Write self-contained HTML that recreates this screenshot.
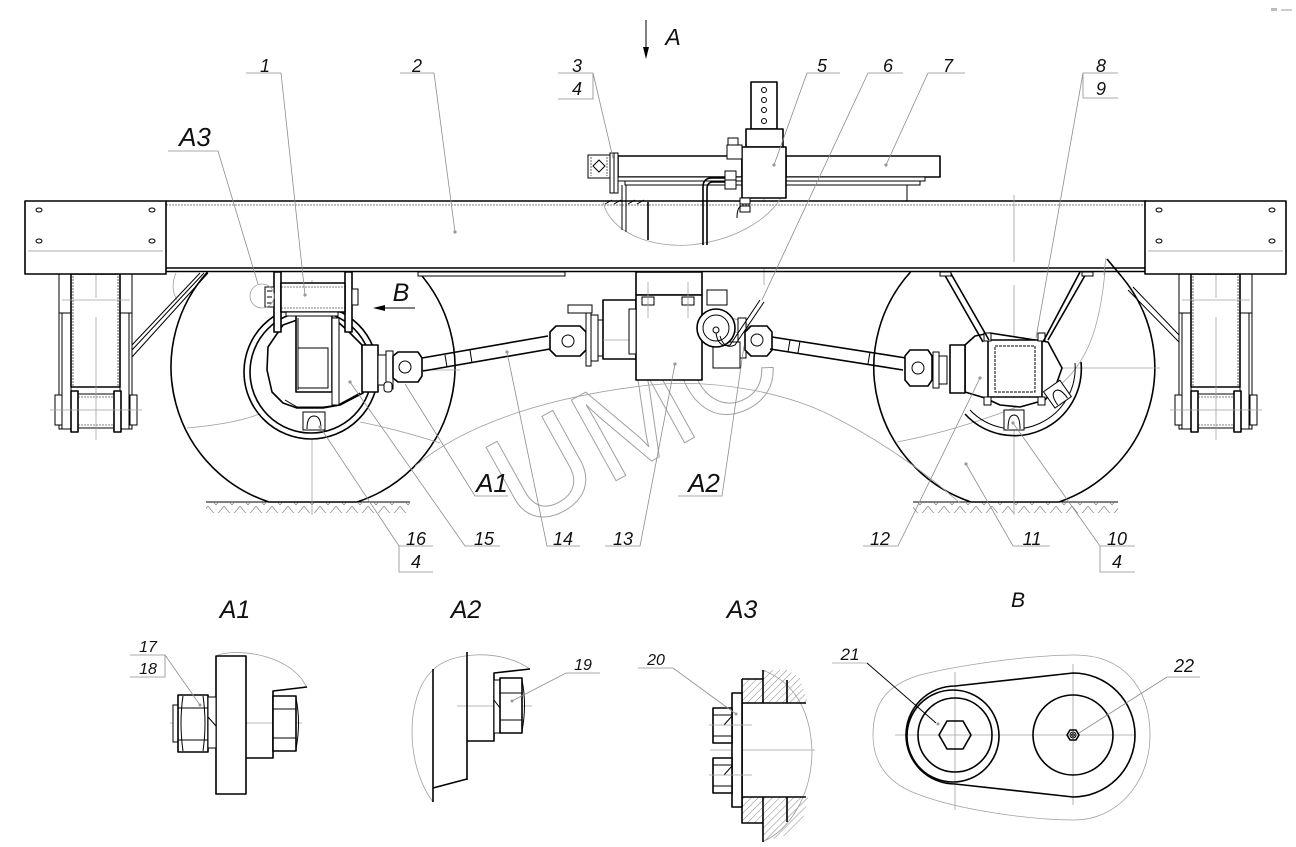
<!DOCTYPE html>
<html><head><meta charset="utf-8">
<style>html,body{margin:0;padding:0;background:#fff}svg{display:block}</style>
</head><body>
<svg width="1296" height="847" viewBox="0 0 1296 847" xmlns="http://www.w3.org/2000/svg">
<style>
.k{stroke:#000;stroke-width:1.6;fill:none;stroke-linejoin:round}
.kw{stroke:#000;stroke-width:1.6;fill:#fff;stroke-linejoin:round}
.t{stroke:#000;stroke-width:1;fill:none}
.tw{stroke:#000;stroke-width:1;fill:#fff}
.g{stroke:#a0a0a0;stroke-width:0.8;fill:none}
.ld{stroke:#8c8c8c;stroke-width:0.8;fill:none}
.dt{stroke:#000;stroke-width:0.6;fill:none;stroke-dasharray:2 1}
.wm{stroke:#a0a0a0;stroke-width:1;fill:none}
text{font-family:"Liberation Sans",sans-serif;font-style:italic;fill:#111;text-anchor:middle}
</style>
<defs>
<pattern id="gh" width="16" height="11" patternUnits="userSpaceOnUse">
<path d="M0 0 L8 10 M16 0 L8 10" stroke="#808080" stroke-width="0.7" fill="none"/>
</pattern>
<pattern id="hat" width="5" height="5" patternUnits="userSpaceOnUse" patternTransform="rotate(45)">
<line x1="0" y1="0" x2="0" y2="5" stroke="#555" stroke-width="0.7"/>
</pattern>
<g id="leg">
<rect x="59" y="274" width="12" height="155" class="t"/>
<line x1="62" y1="313" x2="62" y2="429" class="t"/>
<line x1="59" y1="313" x2="71" y2="313" class="t"/>
<rect x="120" y="274" width="12" height="155" class="t"/>
<line x1="129" y1="313" x2="129" y2="429" class="t"/>
<line x1="120" y1="313" x2="132" y2="313" class="t"/>
<rect x="71" y="274" width="49" height="113" class="k"/>
<line x1="73" y1="276" x2="73" y2="386" class="dt"/>
<line x1="118" y1="276" x2="118" y2="386" class="dt"/>
<rect x="55" y="395" width="7" height="30" class="tw"/>
<rect x="71" y="391" width="7" height="41" class="kw"/>
<rect x="114" y="391" width="7" height="41" class="kw"/>
<rect x="130" y="395" width="7" height="30" class="tw"/>
<rect x="78" y="394" width="36" height="34" class="t"/>
<line x1="78" y1="397" x2="114" y2="397" class="dt"/>
<line x1="78" y1="425" x2="114" y2="425" class="dt"/>
<line x1="50" y1="410" x2="142" y2="410" class="g"/>
<line x1="62" y1="300" x2="130" y2="300" class="g"/>
<line x1="96" y1="254" x2="96" y2="298" class="g"/>
<line x1="96" y1="317" x2="96" y2="440" class="g"/>
<rect x="25" y="201" width="141" height="73" class="kw"/>
<ellipse cx="39" cy="210" rx="3" ry="2" class="tw" stroke-width="1.4"/>
<ellipse cx="152" cy="210" rx="3" ry="2" class="tw" stroke-width="1.4"/>
<ellipse cx="39" cy="241" rx="3" ry="2" class="tw" stroke-width="1.4"/>
<ellipse cx="152" cy="241" rx="3" ry="2" class="tw" stroke-width="1.4"/>
<line x1="28" y1="251" x2="163" y2="251" stroke="#c8c8c8" stroke-width="1.5"/>
</g>
</defs>

<rect x="1271" y="8" width="6" height="3" fill="#bbb"/><rect x="1281" y="9" width="11" height="2" fill="#ccc"/>

<text x="632" y="465" font-size="134" class="wm" style="font-style:normal;fill:none;stroke:#a0a0a0" transform="rotate(-29 632 417)">UMC</text>

<path d="M418.5 272 A142 142 0 0 1 357 502 L269 502 A142 142 0 0 1 207.5 272" class="k"/>
<path d="M1122 277 A142 142 0 0 1 1059 502 L971 502 A142 142 0 0 1 910.5 272" class="k"/>
<line x1="206" y1="502" x2="410" y2="502" class="t"/>
<rect x="206" y="503" width="204" height="10" fill="url(#gh)"/>
<line x1="913" y1="502" x2="1118" y2="502" class="t"/>
<rect x="913" y="503" width="205" height="10" fill="url(#gh)"/>

<path d="M187 428 C220 425 250 420 268 410" class="g"/>
<path d="M360 422 C390 428 415 435 440 443" class="g"/>
<path d="M415 466 C470 420 560 395 650 385 C720 378 790 395 830 415 C880 440 925 472 960 503" class="g"/>
<path d="M897 442 C960 430 1030 405 1060 385 C1090 360 1102 320 1106 258" class="g"/>
<path d="M176 273 C172 282 172 292 177 300" class="g"/>
<line x1="312" y1="280" x2="312" y2="515" class="g"/>
<line x1="262" y1="370" x2="460" y2="370" class="g"/>
<line x1="1014" y1="285" x2="1014" y2="515" class="g"/>
<line x1="960" y1="368" x2="1160" y2="368" class="g"/>
<line x1="764" y1="82" x2="764" y2="285" class="g"/>

<circle cx="311" cy="372" r="67" class="kw"/>
<circle cx="311" cy="372" r="61" class="k" stroke-width="1.2"/>
<path d="M297 320 L283 325 L268 347 L267 370 L272 392 L283 403 L297 408 L323 408 L340 405 L363 393 L362 345 L347 330 L338 322 Z" class="kw"/>
<path d="M285 400 L297 407 L323 407 L338 405 L360 393" class="t"/>
<path d="M303 430 L303 412 L325 412 L325 430 Z" class="tw"/>
<path d="M307 429 Q307 416 314 416 Q321 416 321 429" class="t"/>
<rect x="296" y="315" width="36" height="77" class="kw"/>
<rect x="298" y="348" width="30" height="40" class="t"/>
<line x1="298" y1="318" x2="298" y2="390" class="t"/>
<rect x="332" y="318" width="7" height="87" class="tw"/>
<rect x="274" y="272" width="7" height="60" class="kw"/>
<rect x="345" y="272" width="7" height="60" class="kw"/>
<rect x="281" y="283" width="64" height="29" class="kw"/>
<line x1="281" y1="287" x2="345" y2="287" class="dt"/>
<line x1="281" y1="308" x2="345" y2="308" class="dt"/>
<rect x="286" y="312" width="52" height="4" class="tw"/>
<rect x="265" y="287" width="9" height="20" class="tw"/>
<line x1="267" y1="291" x2="272" y2="291" class="t"/><line x1="267" y1="297" x2="272" y2="297" class="t"/><line x1="267" y1="303" x2="272" y2="303" class="t"/>
<rect x="352" y="289" width="6" height="16" class="tw"/>
<circle cx="262" cy="296" r="12" class="g"/>
<rect x="362" y="345" width="16" height="47" class="kw"/>
<rect x="378" y="355" width="8" height="30" class="tw"/>
<rect x="386" y="351" width="7" height="38" class="tw"/>
<path d="M393 356 L398 352 L418 352 L422 358 L422 376 L418 382 L398 382 L393 378 Z" class="kw"/>
<circle cx="405" cy="367" r="6" class="tw" stroke-width="1.3"/>
<rect x="384" y="382" width="8" height="10" rx="3" class="tw"/>
<path d="M422 358 L548 336 M423 371 L550 349" class="k"/>
<path d="M445 355 L447 367 M470 350 L472 363" class="t"/>
<path d="M550 332 L556 326 L580 326 L586 332 L586 350 L580 356 L556 356 L550 350 Z" class="kw"/>
<circle cx="568" cy="341" r="6" class="tw" stroke-width="1.3"/>
<rect x="586" y="310" width="5" height="56" class="tw"/>
<rect x="591" y="315" width="7" height="46" class="tw"/>
<rect x="598" y="320" width="5" height="36" class="tw"/>
<rect x="568" y="305" width="24" height="8" class="tw"/>
<rect x="603" y="300" width="33" height="59" class="kw"/>
<line x1="603" y1="340" x2="690" y2="340" class="g"/>
<rect x="418" y="272" width="147" height="4" class="tw"/>
<rect x="636" y="272" width="66" height="23" class="kw"/>
<rect x="636" y="295" width="66" height="85" class="kw"/>
<rect x="629" y="309" width="7" height="45" class="tw"/>
<rect x="642" y="297" width="12" height="8" class="tw"/><rect x="682" y="297" width="12" height="8" class="tw"/>
<line x1="648" y1="282" x2="648" y2="318" class="g"/><line x1="688" y1="282" x2="688" y2="318" class="g"/>
<rect x="707" y="290" width="20" height="15" class="tw"/>
<rect x="738" y="318" width="8" height="40" class="tw"/>
<rect x="713" y="342" width="27" height="26" class="tw"/>
<circle cx="716" cy="328" r="19" class="kw"/>
<circle cx="716" cy="328" r="13" class="t"/>
<circle cx="716" cy="330" r="3" class="tw"/>
<path d="M716 333 Q718 348 730 345 L760 300 M720 336 Q724 350 735 345 L764 302" class="t"/>
<path d="M745 332 L751 326 L767 326 L772 332 L772 350 L767 356 L751 356 L745 350 Z" class="kw"/>
<circle cx="757" cy="340" r="6" class="tw" stroke-width="1.3"/>
<path d="M772 337 L906 358 M770 349 L903 370" class="k"/>
<path d="M790 340 L788 352 M800 341 L798 353 M870 352 L868 364" class="t"/>
<path d="M1081 362 A67 67 0 0 1 965 414" class="k"/>
<path d="M1075 363 A61 61 0 0 1 970 410" class="t"/>
<path d="M965 345 L975 336 L990 333 L1048 342 L1062 368 L1055 388 L1045 400 L1020 407 L1000 405 L985 398 L965 392 Z" class="kw"/>
<path d="M1004 430 L1004 410 L1024 410 L1024 430 Z" class="tw"/>
<path d="M1008 429 Q1008 415 1014 415 Q1020 415 1020 429" class="t"/>
<g transform="rotate(-35 1058 395)"><rect x="1048" y="384" width="20" height="20" class="tw"/><path d="M1052 403 Q1052 390 1058 390 Q1064 390 1064 403" class="t"/></g>
<rect x="950" y="345" width="15" height="48" class="kw"/>
<rect x="933" y="352" width="6" height="36" class="tw"/>
<rect x="939" y="356" width="8" height="28" class="tw"/>
<path d="M905 356 L910 350 L928 350 L932 356 L932 380 L928 386 L910 386 L905 380 Z" class="kw"/>
<circle cx="918" cy="368" r="6" class="tw" stroke-width="1.3"/>
<rect x="988" y="340" width="54" height="57" class="kw"/>
<rect x="995" y="346" width="40" height="46" class="t" stroke-dasharray="3 1"/>
<rect x="984" y="333" width="7" height="8" class="tw"/><rect x="1038" y="333" width="7" height="8" class="tw"/>
<rect x="984" y="397" width="7" height="8" class="tw"/><rect x="1038" y="397" width="7" height="8" class="tw"/>
<path d="M943 272 L983 342 M950 272 L989 340" class="k"/>
<path d="M1080 272 L1043 342 M1087 272 L1048 340" class="k"/>
<rect x="940" y="272" width="11" height="4" class="tw"/>
<rect x="1082" y="272" width="11" height="4" class="tw"/>

<path d="M200 273 L132 345 M204 273 L132 350 M208 273 L132 357" class="t"/>
<path d="M1128 290 L1179 342 M1133 287 L1179 335" class="t"/>

<rect x="166" y="202" width="980" height="66" fill="#fff"/>
<line x1="166" y1="201" x2="1146" y2="201" class="k"/>
<line x1="166" y1="205" x2="1146" y2="205" class="dt"/>
<line x1="166" y1="268" x2="1146" y2="268" class="k"/>
<line x1="166" y1="271.5" x2="1146" y2="271.5" class="k"/>
<line x1="1014" y1="195" x2="1014" y2="262" class="g"/>
<path d="M603 202 C610 232 650 248 690 245 C740 240 775 215 785 190" class="g"/>
<path d="M1106 258 C1105 266 1104 270 1104 275" class="g"/>
<path d="M1107 259 L1122 277" class="k"/>
<line x1="622" y1="185" x2="622" y2="230" class="t"/>
<line x1="626" y1="185" x2="626" y2="232" class="t"/>
<line x1="648" y1="202" x2="648" y2="240" class="k"/>
<path d="M605 204 L612 200 M614 204 L621 200 M628 204 L635 200 M637 204 L644 200" class="t"/>

<use href="#leg"/>
<use href="#leg" transform="translate(1120,0)"/>

<rect x="751" y="82" width="26" height="47" class="kw"/>
<circle cx="764" cy="90" r="2.5" class="tw" stroke-width="1.2"/>
<circle cx="764" cy="100" r="2.5" class="tw" stroke-width="1.2"/>
<circle cx="764" cy="110" r="2.5" class="tw" stroke-width="1.2"/>
<circle cx="764" cy="121" r="2.5" class="tw" stroke-width="1.2"/>
<rect x="746" y="129" width="37" height="18" class="kw"/>
<rect x="618" y="156" width="124" height="21" class="kw"/>
<rect x="618" y="177" width="124" height="4" class="tw"/>
<rect x="625" y="181" width="117" height="4" class="tw"/>
<rect x="588" y="155" width="22" height="23" class="tw"/>
<path d="M599 160 L605 166 L599 172 L593 166 Z" class="t"/>
<line x1="591" y1="157" x2="591" y2="176" class="dt"/><line x1="607" y1="157" x2="607" y2="176" class="dt"/>
<rect x="610" y="153" width="8" height="40" class="tw"/>
<line x1="614" y1="153" x2="614" y2="193" class="t"/>
<rect x="786" y="156" width="154" height="21" class="kw"/>
<rect x="786" y="177" width="139" height="4" class="tw"/>
<rect x="786" y="181" width="134" height="4" class="tw"/>
<line x1="907" y1="185" x2="907" y2="201" class="t"/>
<rect x="742" y="147" width="44" height="51" class="kw"/>
<rect x="728" y="138" width="10" height="7" class="tw"/>
<rect x="727" y="145" width="15" height="14" class="tw"/>
<path d="M703 245 L703 187 Q703 178 712 178 L725 178 M707 245 L707 189 Q707 182 713 182 L725 182" class="k" stroke-width="1.3"/>
<rect x="725" y="171" width="11" height="18" class="tw"/>
<line x1="725" y1="180" x2="736" y2="180" class="t"/>
<rect x="740" y="198" width="10" height="6" class="tw"/>
<rect x="740" y="206" width="10" height="6" class="tw"/>
<path d="M741 206 Q737 208 737 218" class="t"/>
<line x1="646" y1="20" x2="646" y2="50" class="t"/>
<path d="M643 47 L649 47 L646 59 Z" fill="#000"/>
<line x1="383" y1="308" x2="415" y2="308" class="t"/>
<path d="M373 308 L385 305 L385 311 Z" fill="#000"/>

<g class="ld">
<path d="M246 73 L281 73 L305 295"/>
<path d="M400 73 L434 73 L455 232"/>
<path d="M168 151 L218 151 L258 284"/>
<path d="M558 73 L593 73 L613 158 M558 99 L593 99 L593 73"/>
<path d="M840 73 L807 73 L774 165"/>
<path d="M903 73 L868 73 L762 300"/>
<path d="M965 73 L928 73 L886 165"/>
<path d="M1118 73 L1083 73 L1036 338 M1118 98 L1083 98 L1083 73"/>
<path d="M508 496 L475 496 L405 384"/>
<path d="M678 496 L722 496 L744 346"/>
<path d="M433 546 L399 546 L320 427 M433 572 L399 572 L399 546"/>
<path d="M500 546 L465 546 L350 382"/>
<path d="M580 546 L547 546 L507 352"/>
<path d="M605 546 L640 546 L675 364"/>
<path d="M863 546 L898 546 L980 378"/>
<path d="M1050 546 L1013 546 L966 464"/>
<path d="M1135 546 L1100 546 L1013 423 M1135 572 L1100 572 L1100 546"/>
</g>
<g fill="#999">
<circle cx="305" cy="295" r="1.6"/><circle cx="455" cy="232" r="1.6"/><circle cx="774" cy="165" r="1.6"/>
<circle cx="886" cy="165" r="1.6"/><circle cx="350" cy="382" r="1.6"/><circle cx="507" cy="352" r="1.6"/>
<circle cx="675" cy="364" r="1.6"/><circle cx="980" cy="378" r="1.6"/><circle cx="966" cy="464" r="1.6"/>
<circle cx="320" cy="427" r="1.6"/><circle cx="1013" cy="423" r="1.6"/>
</g>

<text x="265" y="72" font-size="18">1</text>
<text x="417" y="72" font-size="18">2</text>
<text x="577" y="72" font-size="18">3</text>
<text x="577" y="95" font-size="18">4</text>
<text x="822" y="72" font-size="18">5</text>
<text x="888" y="72" font-size="18">6</text>
<text x="948" y="72" font-size="18">7</text>
<text x="1101" y="72" font-size="18">8</text>
<text x="1101" y="95" font-size="18">9</text>
<text x="195" y="146" font-size="26">А3</text>
<text x="673" y="45" font-size="23">A</text>
<text x="401" y="301" font-size="25">В</text>
<text x="492" y="492" font-size="26">А1</text>
<text x="704" y="492" font-size="26">А2</text>
<text x="416" y="545" font-size="18">16</text>
<text x="416" y="568" font-size="18">4</text>
<text x="484" y="545" font-size="18">15</text>
<text x="563" y="545" font-size="18">14</text>
<text x="623" y="545" font-size="18">13</text>
<text x="880" y="545" font-size="18">12</text>
<text x="1032" y="545" font-size="18">11</text>
<text x="1117" y="545" font-size="18">10</text>
<text x="1117" y="568" font-size="18">4</text>

<text x="235" y="618" font-size="25">А1</text>
<path d="M218 655 C240 648 292 655 307 688" class="g"/>
<line x1="170" y1="723" x2="302" y2="723" class="g"/>
<rect x="216" y="656" width="30" height="138" class="kw"/>
<path d="M246 758 L273 758 L273 691 L307 687" class="k"/>
<rect x="173" y="705" width="5" height="37" class="tw"/>
<rect x="178" y="695" width="30" height="57" class="kw"/>
<path d="M183 696 Q179 723 183 751 M203 696 Q207 723 203 751" class="t"/>
<line x1="178" y1="708" x2="208" y2="708" class="t"/><line x1="178" y1="740" x2="208" y2="740" class="t"/>
<rect x="208" y="697" width="8" height="51" class="tw"/>
<path d="M208 717 L216 726" class="t"/>
<rect x="273" y="696" width="23" height="55" class="kw"/>
<path d="M296 698 Q301 723 296 749" class="t"/>
<line x1="273" y1="709" x2="296" y2="709" class="t"/><line x1="273" y1="738" x2="296" y2="738" class="t"/>
<path d="M130 655 L165 655 L200 705 M130 677 L165 677 L165 655" class="ld"/>
<circle cx="200" cy="705" r="1.5" fill="#999"/>
<text x="148" y="652" font-size="16">17</text>
<text x="148" y="674" font-size="16">18</text>

<text x="466" y="618" font-size="25">А2</text>
<path d="M433 802 C405 765 405 695 433 670 C450 652 500 648 530 669" class="g"/>
<line x1="457" y1="706" x2="532" y2="706" class="g"/>
<line x1="433" y1="669" x2="433" y2="802" class="k"/>
<line x1="467" y1="652" x2="467" y2="780" class="k"/>
<line x1="433" y1="788" x2="467" y2="779" class="k"/>
<path d="M467 741 L494 741 L494 673 L530 669" class="k"/>
<rect x="494" y="680" width="6" height="53" class="tw"/>
<path d="M494 700 L500 708" class="t"/>
<rect x="500" y="678" width="22" height="55" class="kw"/>
<path d="M522 680 Q527 705 522 731" class="t"/>
<line x1="500" y1="693" x2="522" y2="693" class="t"/><line x1="500" y1="720" x2="522" y2="720" class="t"/>
<path d="M600 673 L566 673 L512 701" class="ld"/>
<circle cx="512" cy="701" r="1.5" fill="#999"/>
<text x="583" y="670" font-size="16">19</text>

<text x="742" y="618" font-size="25">А3</text>
<path d="M742 679 L763 679 L763 703 L742 703 Z" fill="url(#hat)"/>
<path d="M763 670 L787 670 L800 678 L808 703 L763 703 Z" fill="url(#hat)"/>
<path d="M742 797 L763 797 L763 823 L742 823 Z" fill="url(#hat)"/>
<path d="M763 797 L808 797 L803 820 L787 835 L763 842 Z" fill="url(#hat)"/>
<path d="M762 670 C790 680 810 705 812 750 C812 795 790 830 762 842" class="g"/>
<line x1="710" y1="750" x2="815" y2="750" class="g"/>
<path d="M763 670 L763 703 M742 679 L763 679 M742 679 L742 823 L763 823 M763 797 L763 842 M787 680 L787 703 M787 797 L787 822" class="k"/>
<line x1="742" y1="703" x2="806" y2="703" class="k"/>
<line x1="742" y1="797" x2="806" y2="797" class="k"/>
<rect x="732" y="693" width="10" height="114" class="kw"/>
<rect x="713" y="708" width="19" height="35" class="kw"/>
<line x1="713" y1="715" x2="732" y2="715" class="t"/><line x1="713" y1="736" x2="732" y2="736" class="t"/>
<path d="M724 725 L732 716" class="t"/>
<rect x="713" y="758" width="19" height="35" class="kw"/>
<line x1="713" y1="765" x2="732" y2="765" class="t"/><line x1="713" y1="786" x2="732" y2="786" class="t"/>
<path d="M724 775 L732 766" class="t"/>
<line x1="709" y1="725" x2="752" y2="725" class="g"/>
<line x1="709" y1="775" x2="752" y2="775" class="g"/>
<path d="M638 668 L673 668 L736 714" class="ld"/>
<circle cx="736" cy="714" r="1.5" fill="#999"/>
<text x="656" y="665" font-size="16">20</text>

<text x="1018" y="607" font-size="21">В</text>
<path d="M873 735 C873 700 890 684 920 675 C960 665 1030 655 1075 655 C1125 655 1150 690 1150 735 C1150 785 1115 820 1075 820 C1030 820 960 810 920 795 C890 785 873 765 873 735 Z" class="g"/>
<line x1="895" y1="735" x2="1135" y2="735" class="g"/>
<line x1="955" y1="672" x2="955" y2="810" class="g"/>
<line x1="1073" y1="664" x2="1073" y2="805" class="g"/>
<path d="M955 686 L1073 673 A62 62 0 0 1 1073 797 L955 784 A49 49 0 0 1 955 686 Z" class="k"/>
<circle cx="953" cy="736" r="46" class="k" stroke-width="1.3"/>
<circle cx="955" cy="735" r="37" class="k" stroke-width="1.3"/>
<path d="M963 721 L971 735 L963 749 L947 749 L939 735 L947 721 Z" class="k" stroke-width="1.3"/>
<circle cx="1073" cy="735" r="40" class="k" stroke-width="1.3"/>
<path d="M1076 730 L1079 735 L1076 740 L1070 740 L1067 735 L1070 730 Z" class="k" stroke-width="1.2"/>
<circle cx="1073" cy="735" r="3" class="t"/>
<circle cx="1073" cy="735" r="1.3" class="t"/>
<path d="M832 663 L867 663" class="g" stroke-width="1.2"/>
<path d="M867 663 L936 723" class="t"/>
<circle cx="938" cy="724" r="1.5" fill="#999"/>
<text x="850" y="660" font-size="17">21</text>
<path d="M1200 677 L1167 677 L1079 733" class="ld"/>
<text x="1184" y="672" font-size="18">22</text>
</svg>
</body></html>
